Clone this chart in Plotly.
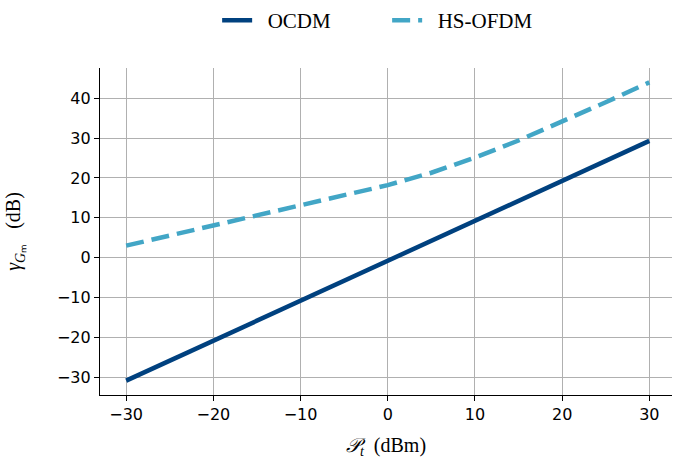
import plotly.graph_objects as go

pt_dbm = [-30, -25, -20, -15, -10, -5, 0, 5, 10, 15, 20, 25, 30]
ocdm = [-30.9, -25.9, -20.9, -15.9, -10.9, -5.9, -0.9, 4.1, 9.2, 14.2, 19.2, 24.2, 29.3]
hs_ofdm = [3.0, 5.5, 8.0, 10.5, 13.0, 15.5, 18.2, 21.3, 25.1, 29.4, 34.1, 39.0, 44.0]

x_ticks = [-30, -20, -10, 0, 10, 20, 30]
y_ticks = [-30, -20, -10, 0, 10, 20, 30, 40]

def tick_text(v):
    return ("\u2212" + str(-v)) if v < 0 else str(v)

fig = go.Figure()
fig.add_trace(go.Scatter(x=pt_dbm, y=ocdm, mode="lines", name="\u00a0\u00a0OCDM",
                         line=dict(color="#00417f", width=4.5)))
fig.add_trace(go.Scatter(x=pt_dbm, y=hs_ofdm, mode="lines", name="\u00a0\u00a0HS-OFDM",
                         line=dict(color="#42a6c6", width=4.5, dash="18px,8px")))

axis_common = dict(
    showgrid=True, gridcolor="#b0b0b0", gridwidth=1,
    showline=True, linecolor="black", linewidth=1.2,
    ticks="outside", ticklen=5, tickcolor="black", tickwidth=1.2,
    zeroline=False, mirror=False, automargin=False,
    tickfont=dict(family="DejaVu Sans", size=16, color="black"),
)

fig.update_layout(
    width=674, height=461,
    margin=dict(l=100, r=2, t=68, b=66),
    paper_bgcolor="white", plot_bgcolor="white",
    showlegend=True,
    legend=dict(orientation="h", x=0.502, xanchor="center", y=1.0, yanchor="top",
                yref="container", font=dict(family="Liberation Serif", size=21, color="black"),
                entrywidth=125, entrywidthmode="pixels", tracegroupgap=0),
    xaxis=dict(range=[-33, 32.6], tickvals=x_ticks,
               ticktext=[tick_text(v) for v in x_ticks],
               title=dict(text="<i>\U0001D4AB</i><sub><i>t</i></sub>  (dBm)",
                          font=dict(family="Liberation Serif", size=20, color="black"),
                          standoff=14),
               **axis_common),
    yaxis=dict(range=[-34.5, 47.6], tickvals=y_ticks,
               ticktext=[tick_text(v) for v in y_ticks],
               title=dict(text="<i>\u03b3</i><sub><i>G</i>\u2098</sub>   (dB)",
                          font=dict(family="Liberation Serif", size=20, color="black"),
                          standoff=30),
               **axis_common),
)

fig.write_html("out.html", config={"displayModeBar": False},
               post_script="document.body.style.margin='0';document.body.style.padding='0';")
